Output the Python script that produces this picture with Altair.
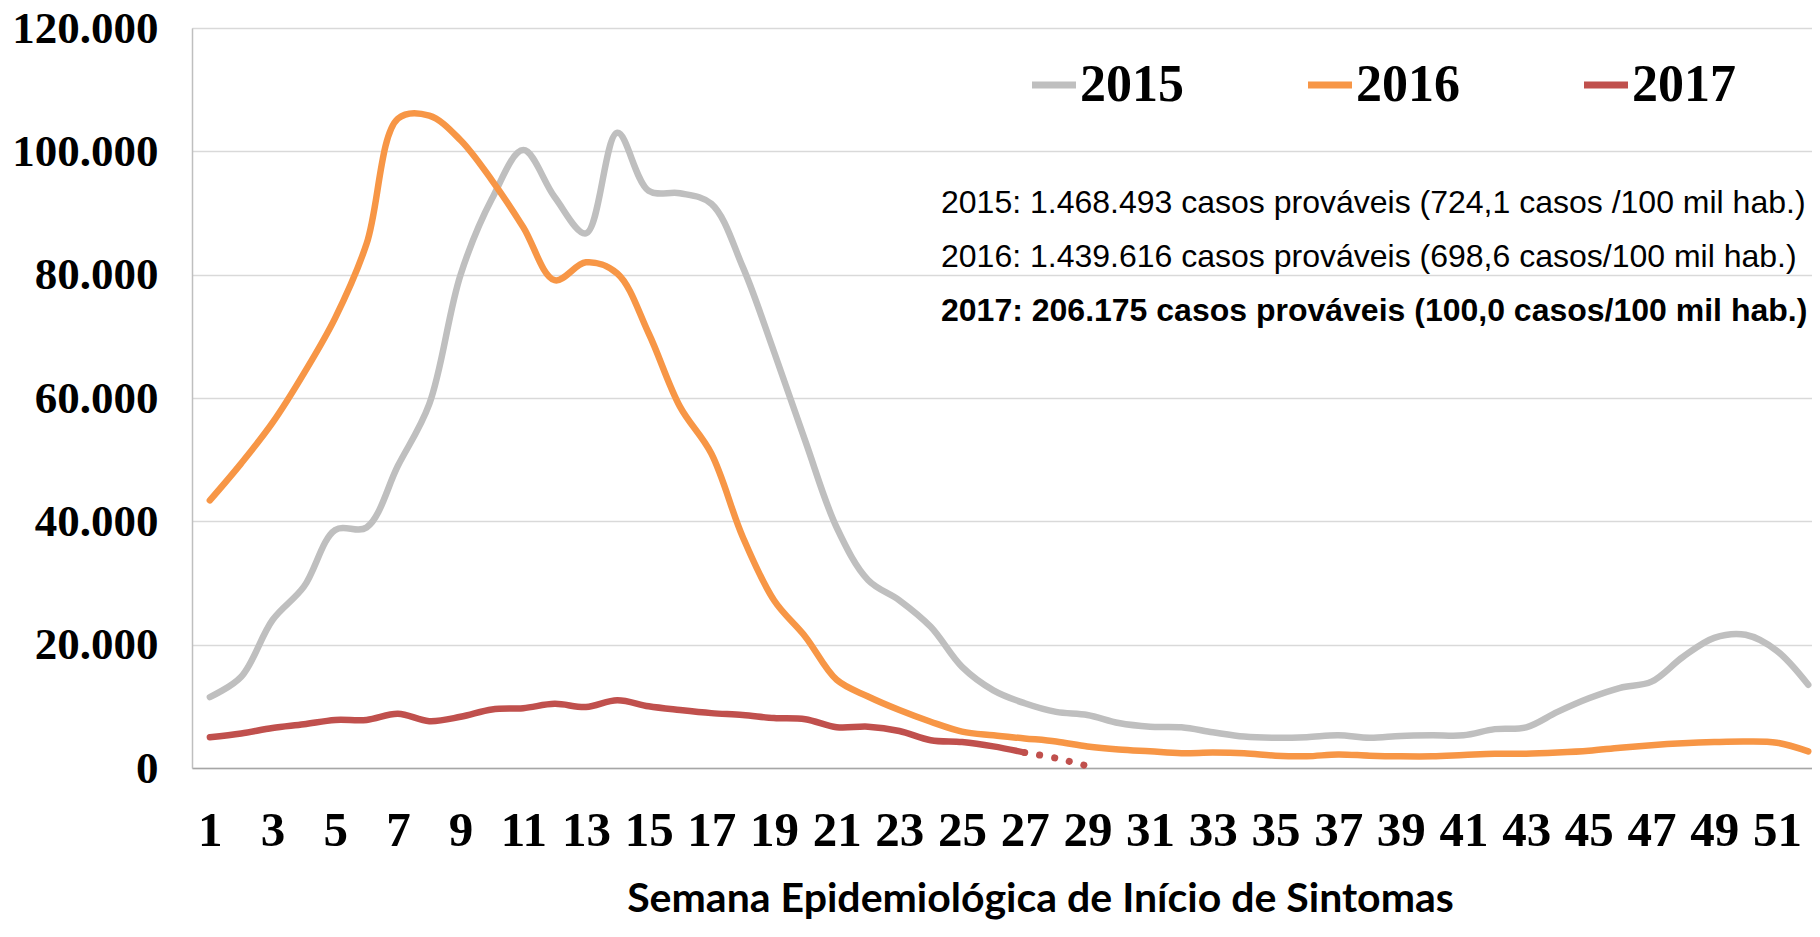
import altair as alt
import pandas as pd

# ---- data ----
weeks = list(range(1, 53))
years = ["2015", "2016", "2017"]
colors = ["#BFBFBF", "#F79646", "#C0504D"]

cases_2015 = [11500, 14800, 24000, 29400, 38600, 39000, 49000, 59000, 80000, 92300,
              100200, 92600, 86700, 103000, 93600, 93200, 91500, 81300, 67500, 53000,
              39000, 30500, 27200, 22900, 16400, 12600, 10500, 9100, 8600, 7300,
              6700, 6600, 5800, 5100, 4900, 5000, 5300, 4900, 5200, 5300,
              5300, 6300, 6600, 9100, 11300, 13000, 14000, 18000, 21100, 21600,
              19000, 13500]
cases_2016 = [43400, 49400, 56000, 64000, 73000, 85000, 105300, 105800, 101800, 95300,
              87700, 79100, 82000, 80200, 70500, 58600, 51000, 37500, 27200, 21300,
              14300, 11600, 9400, 7500, 5900, 5300, 4800, 4300, 3500, 3000,
              2700, 2400, 2500, 2400, 2000, 1900, 2200, 2000, 1900, 1900,
              2100, 2300, 2300, 2500, 2800, 3300, 3700, 4000, 4200, 4300,
              4100, 2700]
cases_2017 = [5000, 5600, 6500, 7100, 7800, 7800, 8800, 7600, 8300, 9500,
              9700, 10400, 9900, 11000, 10000, 9400, 8900, 8600, 8100, 7900,
              6600, 6700, 6000, 4500, 4200, 3500, 2500]
weeks_2017_partial = [27, 28, 29]
cases_2017_partial = [2500, 1600, 300]

x_tick_values = list(range(1, 53, 2))
y_tick_values = [0, 20000, 40000, 60000, 80000, 100000, 120000]

notes = [
    "2015: 1.468.493 casos prováveis (724,1 casos /100 mil hab.)",
    "2016: 1.439.616 casos prováveis (698,6 casos/100 mil hab.)",
    "2017: 206.175 casos prováveis (100,0 casos/100 mil hab.)",
]
x_title = "Semana Epidemiológica de Início de Sintomas"

# ---- tables ----
rows = []
for w, v in zip(weeks, cases_2015):
    rows.append({"semana": w, "ano": "2015", "casos": v})
for w, v in zip(weeks, cases_2016):
    rows.append({"semana": w, "ano": "2016", "casos": v})
for w, v in zip(weeks[:len(cases_2017)], cases_2017):
    rows.append({"semana": w, "ano": "2017", "casos": v})
df = pd.DataFrame(rows)
df_partial = pd.DataFrame({"semana": weeks_2017_partial, "casos": cases_2017_partial})

serif = "Liberation Serif"

x_scale = alt.Scale(domain=[0.43, 52.12], nice=False, zero=False)
y_scale = alt.Scale(domain=[0, 120000], nice=False)

x_axis = alt.Axis(
    values=x_tick_values, grid=False, ticks=False, domain=True,
    domainColor="#A6A6A6", domainWidth=1.5,
    labelFont=serif, labelFontWeight="bold", labelFontSize=49, labelColor="black",
    labelPadding=38, labelOverlap=False, labelFlush=False,
    title=x_title, titleFont="Lato", titleFontWeight="bold", titleFontSize=41,
    titleColor="black", titleX=848, titleY=131, titleAlign="center",
    titleBaseline="middle",
)
y_axis = alt.Axis(
    values=y_tick_values, grid=True, gridColor="#D9D9D9", gridWidth=1.5,
    ticks=False, domain=True, domainColor="#BFBFBF", domainWidth=1.5,
    labelFont=serif, labelFontWeight="bold", labelFontSize=45, labelColor="black",
    labelPadding=34, labelFlush=False, labelOverlap=False,
    labelExpr="replace(format(datum.value, ','), ',', '.')",
    title=None,
)

lines = alt.Chart(df).mark_line(
    strokeWidth=6.5, interpolate="catmull-rom", strokeCap="round", strokeJoin="round"
).encode(
    x=alt.X("semana:Q", scale=x_scale, axis=x_axis),
    y=alt.Y("casos:Q", scale=y_scale, axis=y_axis),
    color=alt.Color(
        "ano:N",
        scale=alt.Scale(domain=years, range=colors),
        legend=alt.Legend(
            orient="none", legendX=836, legendY=31, direction="horizontal",
            title=None, symbolType="stroke", symbolSize=1936, symbolStrokeWidth=7,
            labelFont=serif, labelFontSize=52, labelFontWeight="bold",
            labelColor="black", labelOffset=0, columnPadding=110, padding=0,
            labelLimit=400,
        ),
    ),
    order="semana:Q",
)

partial = alt.Chart(df_partial).mark_line(
    color="#C0504D", strokeWidth=7, strokeDash=[0.1, 15], strokeCap="round",
    interpolate="catmull-rom",
).encode(
    x=alt.X("semana:Q", scale=x_scale),
    y=alt.Y("casos:Q", scale=y_scale),
)

note_layers = []
note_y = [185, 239, 293]
note_weight = ["normal", "normal", "bold"]
for txt, yy, wt in zip(notes, note_y, note_weight):
    note_layers.append(
        alt.Chart(pd.DataFrame({"t": [txt]})).mark_text(
            align="left", baseline="alphabetic", font="Liberation Sans",
            fontSize=32, fontWeight=wt, color="black",
        ).encode(text="t:N", x=alt.value(749), y=alt.value(yy))
    )

chart = alt.layer(lines, partial, *note_layers).properties(
    width=1620, height=740,
    autosize=alt.AutoSizeParams(type="none"),
    padding={"left": 184, "top": 20, "right": 0, "bottom": 153},
).configure_view(stroke=None).configure(background="white")

chart.save("out.html", embed_options={"renderer": "svg", "actions": False})
